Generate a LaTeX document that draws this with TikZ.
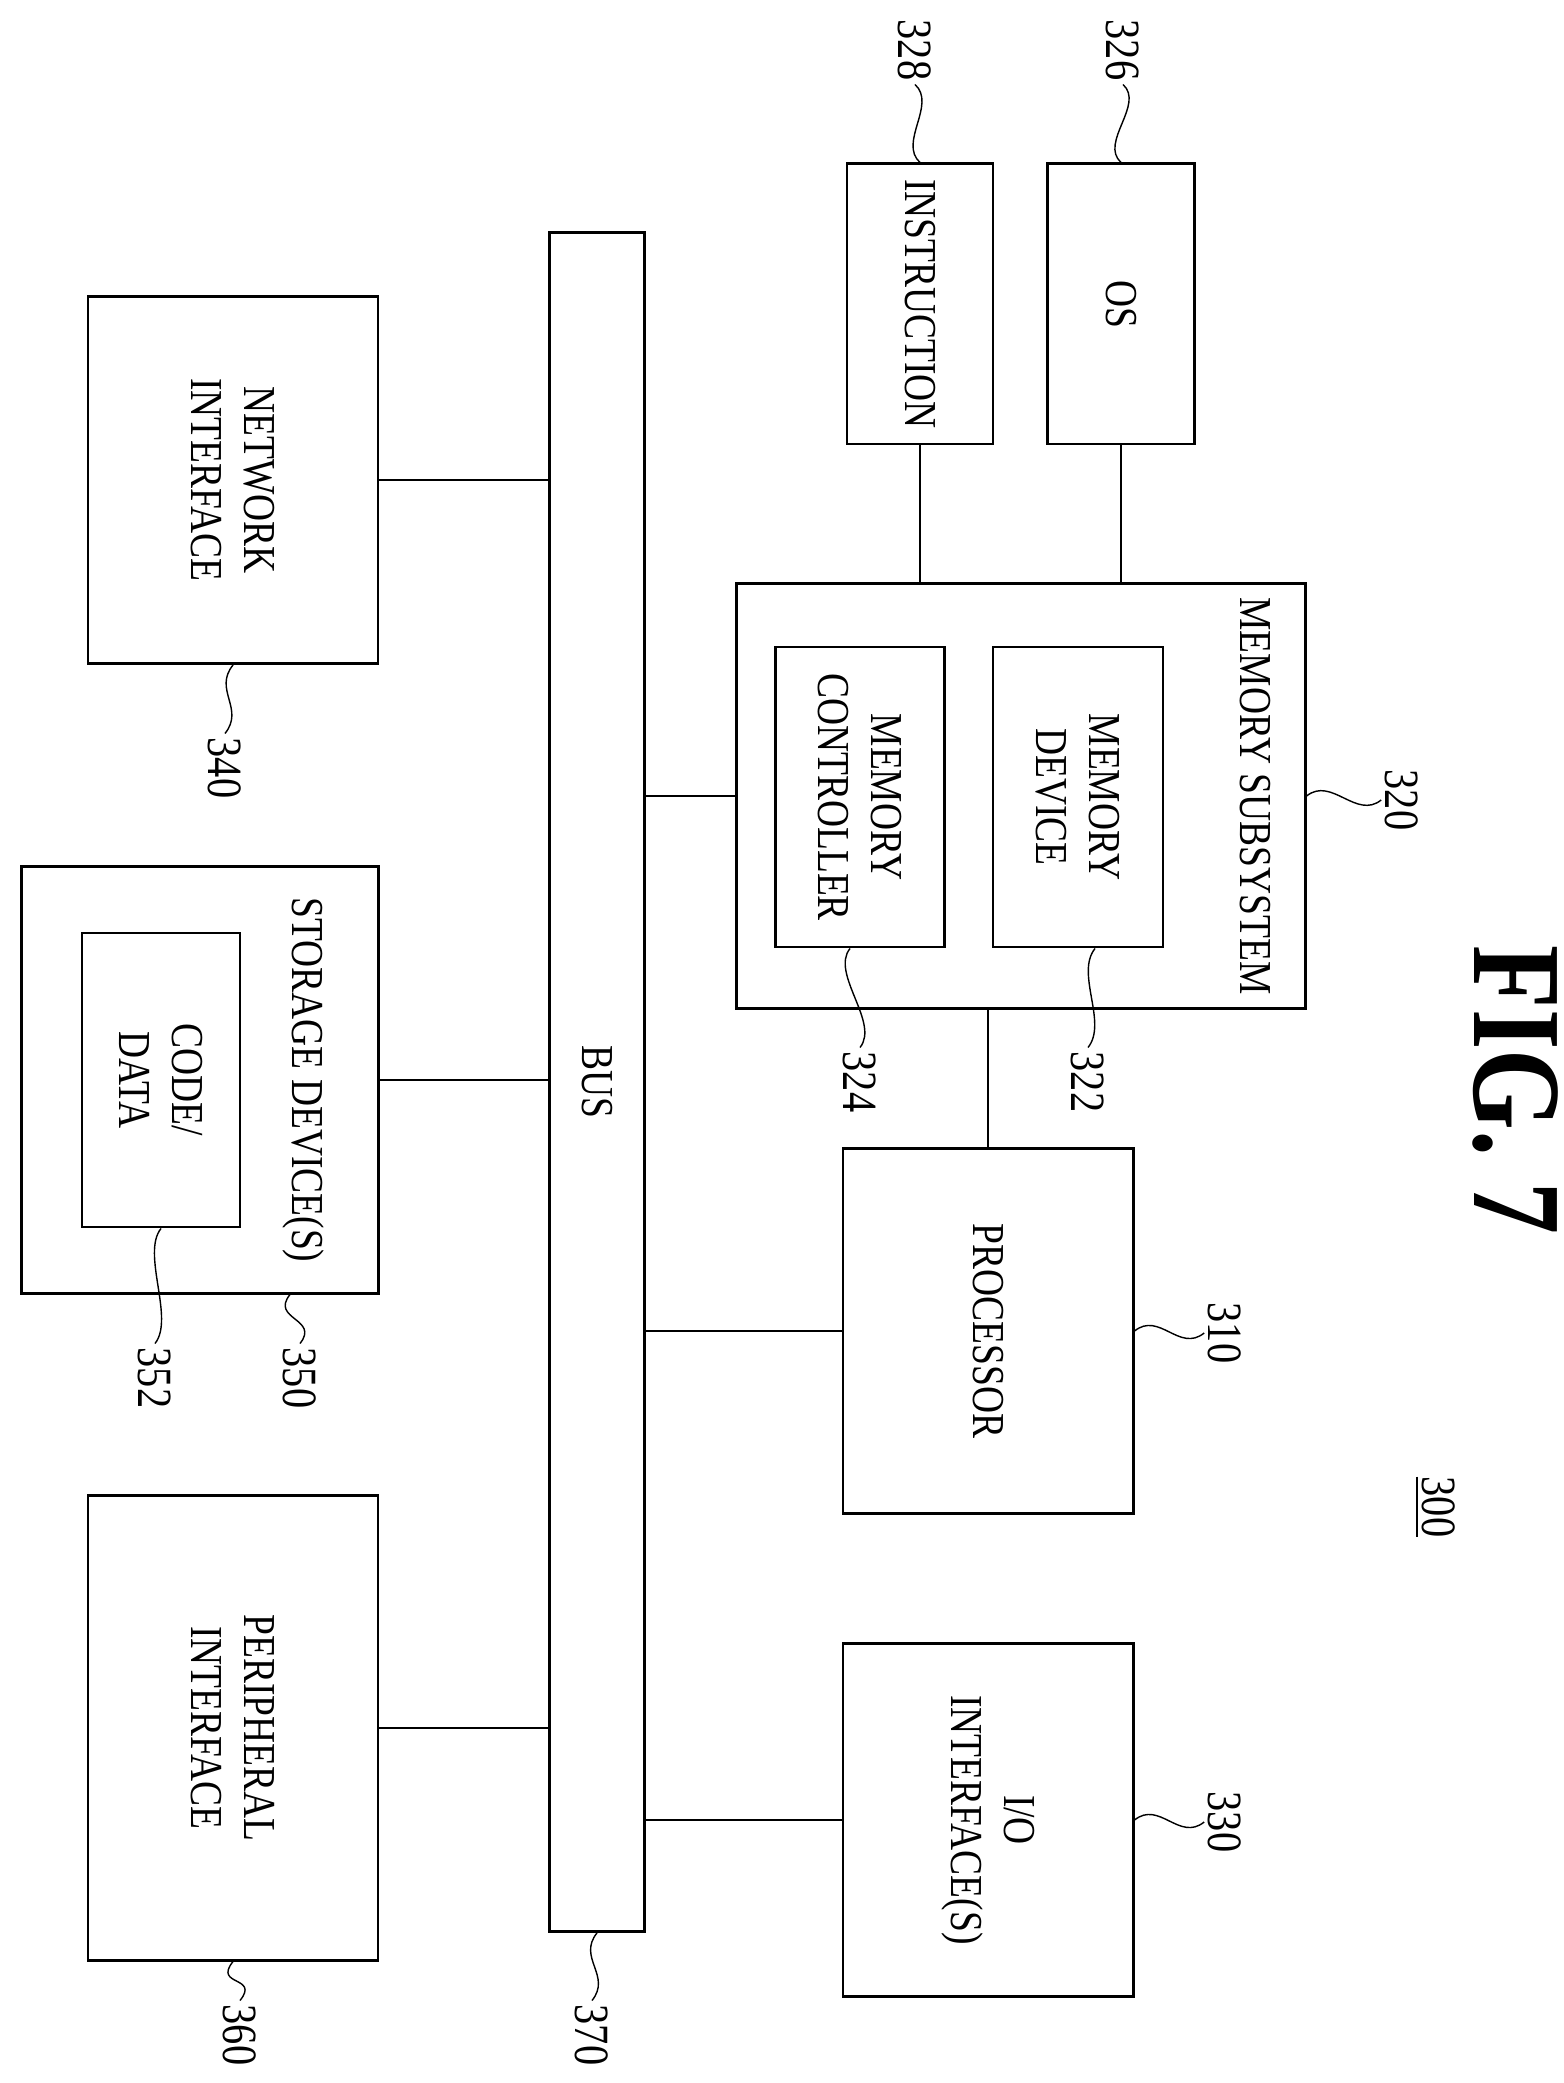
\documentclass[tikz,border=0pt]{standalone}
\usepackage{fontspec}
\setmainfont{Liberation Serif}[FakeStretch=0.82]
\usetikzlibrary{positioning, calc}

\tikzset{
  box/.style={draw, thick, rectangle, rotate=-90, align=center, inner sep=2pt,
    font=\fontsize{13}{15}\selectfont},
  txt/.style={rotate=-90, align=center, font=\fontsize{13}{15}\selectfont},
  ref/.style={rotate=-90, inner sep=1pt, font=\fontsize{14}{16}\selectfont},
  lead/.style={thin},
}

\begin{document}
\begin{tikzpicture}[x=0.01cm, y=-0.01cm]
\useasboundingbox (0,0) rectangle (1563,2083);

% boxes (rotated: minimum width is the vertical size)
\node (bus) [box, minimum width=16.98cm, minimum height=0.95cm] at (597,1082) {BUS};
\node (net) [box, minimum width=3.67cm, minimum height=2.9cm] at (233,480) {NETWORK\\INTERFACE};
\node (stor) [box, minimum width=4.26cm, minimum height=3.56cm] at (200,1080) {};
\node (stortitle) [txt] at (303,1080) {STORAGE DEVICE(S)};
\node (code) [box, minimum width=2.94cm, minimum height=1.58cm] at (161,1080) {CODE/\\DATA};
\node (peri) [box, minimum width=4.64cm, minimum height=2.9cm] at (233,1728) {PERIPHERAL\\INTERFACE};
\node (mem) [box, minimum width=4.25cm, minimum height=5.68cm] at (1021,796) {};
\node (memtitle) [txt] at (1255,796) {MEMORY SUBSYSTEM};
\node (ctrl) [box, minimum width=3.0cm, minimum height=1.69cm] at (860,797) {MEMORY\\CONTROLLER};
\node (dev) [box, minimum width=3.0cm, minimum height=1.70cm] at (1078,797) {MEMORY\\DEVICE};
\node (instr) [box, minimum width=2.8cm, minimum height=1.46cm, inner sep=0pt] at (920,304) {INSTRUCTION};
\node (os) [box, minimum width=2.8cm, minimum height=1.47cm] at (1121,304) {OS};
\node (proc) [box, minimum width=3.64cm, minimum height=2.9cm] at (988,1331) {PROCESSOR};
\node (io) [box, minimum width=3.53cm, minimum height=2.9cm] at (988,1820) {I/O\\INTERFACE(S)};

% connections
\draw[thick] (net.north) -- (net.north -| bus.south);
\draw[thick] (stor.north) -- (stor.north -| bus.south);
\draw[thick] (peri.north) -- (peri.north -| bus.south);
\draw[thick] (mem.south) -- (mem.south -| bus.north);
\draw[thick] (proc.south) -- (proc.south -| bus.north);
\draw[thick] (io.south) -- (io.south -| bus.north);
\draw[thick] (instr.east) -- (instr.east |- mem.west);
\draw[thick] (os.east) -- (os.east |- mem.west);
\draw[thick] (proc.west) -- (proc.west |- mem.east);

% reference numerals
\node (l328) [ref] at (915,50) {328};
\node (l326) [ref] at (1123,50) {326};
\node (l320) [ref] at (1402,800) {320};
\node (l322) [ref] at (1088,1082) {322};
\node (l324) [ref] at (860,1082) {324};
\node (l310) [ref] at (1225,1333) {310};
\node (l330) [ref] at (1225,1822) {330};
\node (l340) [ref] at (225,768) {340};
\node (l350) [ref] at (300,1378) {350};
\node (l352) [ref] at (155,1378) {352};
\node (l360) [ref] at (240,2035) {360};
\node (l370) [ref] at (592,2035) {370};
\node (l300) [ref] at (1435,1507) {\underline{300}};
\node (fig) [rotate=-90, font=\fontsize{36}{40}\selectfont\bfseries] at (1515,1090) {FIG. 7};

% leaders
\draw[lead] (instr.west) .. controls +(-22,-20) and +(22,20) .. (l328.east);
\draw[lead] (os.west) .. controls +(-22,-20) and +(22,20) .. (l326.east);
\draw[lead] (mem.north) .. controls +(25,-20) and +(-25,20) .. (l320.south);
\draw[lead] ($(dev.east)+(17,0)$) .. controls +(-20,25) and +(20,-25) .. (l322.west);
\draw[lead] ($(ctrl.east)+(-10,0)$) .. controls +(-20,25) and +(20,-25) .. (l324.west);
\draw[lead] (proc.north) .. controls +(25,-20) and +(-25,20) .. (l310.south);
\draw[lead] (io.north) .. controls +(25,-20) and +(-25,20) .. (l330.south);
\draw[lead] (net.east) .. controls +(-20,25) and +(20,-25) .. (l340.west);
\draw[lead] ($(stor.east)+(90,0)$) .. controls +(-20,25) and +(20,-25) .. (l350.west);
\draw[lead] (code.east) .. controls +(-20,25) and +(20,-25) .. (l352.west);
\draw[lead] (peri.east) .. controls +(-20,25) and +(20,-25) .. (l360.west);
\draw[lead] (bus.east) .. controls +(-20,25) and +(20,-25) .. (l370.west);
\end{tikzpicture}
\end{document}
